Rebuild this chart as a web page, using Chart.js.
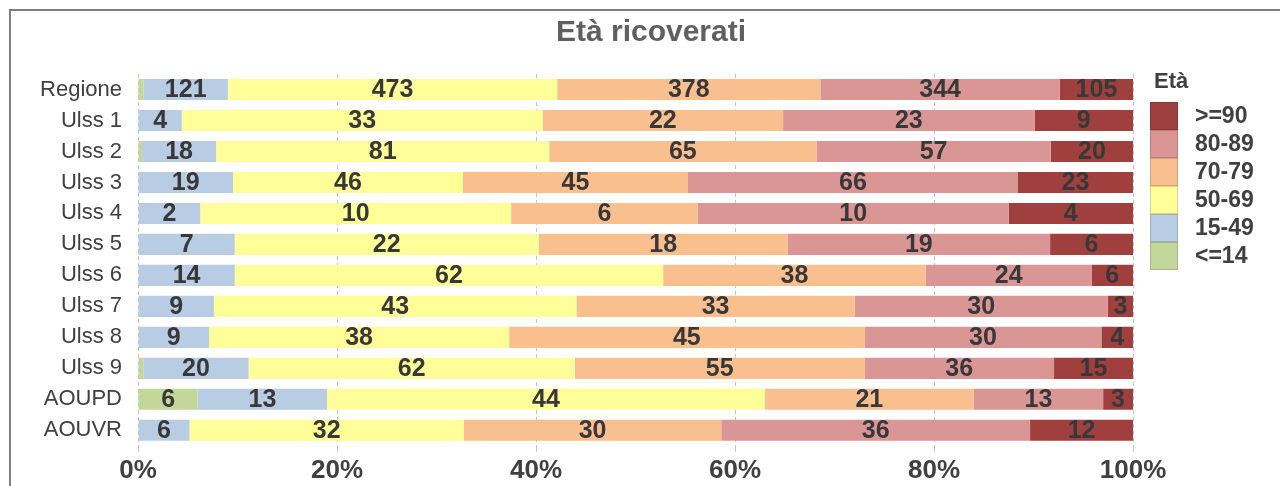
<!DOCTYPE html>
<html>
<head>
<meta charset="utf-8">
<script src="https://cdn.jsdelivr.net/npm/chart.js@4"></script>
<style>
  html, body { margin: 0; padding: 0; background: #fff; overflow: hidden; }
  #cornice { position: absolute; left: 9px; top: 9px; width: 1400px; height: 700px; border: 2px solid #7f7f7f; }
  #box { position: absolute; left: 22px; top: 0; width: 1258px; height: 486px; }
</style>
</head>
<body>
<div id="cornice"></div>
<div id="box"><canvas id="barChart"></canvas></div>
<script>
// ricoverati per struttura e fascia d'età
const strutture = ["Regione", "Ulss 1", "Ulss 2", "Ulss 3", "Ulss 4", "Ulss 5", "Ulss 6", "Ulss 7", "Ulss 8", "Ulss 9", "AOUPD", "AOUVR"];
const fasce = ["<=14", "15-49", "50-69", "70-79", "80-89", ">=90"];
const eta0_14 = [8, 0, 1, 0, 0, 0, 0, 0, 0, 1, 6, 0];
const eta15_49 = [121, 4, 18, 19, 2, 7, 14, 9, 9, 20, 13, 6];
const eta50_69 = [473, 33, 81, 46, 10, 22, 62, 43, 38, 62, 44, 32];
const eta70_79 = [378, 22, 65, 45, 6, 18, 38, 33, 45, 55, 21, 30];
const eta80_89 = [344, 23, 57, 66, 10, 19, 24, 30, 30, 36, 13, 36];
const eta90 = [105, 9, 20, 23, 4, 6, 6, 3, 4, 15, 3, 12];
const tickX = [0, 20, 40, 60, 80, 100];

const colori = ["#c4d79b", "#b8cce4", "#ffff99", "#fabf8f", "#da9694", "#a0403e"];
const conteggi = [eta0_14, eta15_49, eta50_69, eta70_79, eta80_89, eta90];

// totali per riga, per passare alle percentuali
const totali = strutture.map((s, i) => conteggi.reduce((acc, serie) => acc + serie[i], 0));

const FONT = "'Liberation Sans', Arial, sans-serif";
Chart.defaults.font.family = FONT;
Chart.defaults.color = "#404040";

// titolo centrato sull'intera tela (la legenda è disegnata a parte)
const titolo = {
  id: "titolo",
  afterDraw(chart) {
    const ctx = chart.ctx;
    ctx.save();
    ctx.font = "bold 30px " + FONT;
    ctx.fillStyle = "#606060";
    ctx.textAlign = "center";
    ctx.textBaseline = "middle";
    ctx.fillText("Età ricoverati", chart.width / 2, 33);
    ctx.restore();
  }
};

// numeri dentro i segmenti (solo se il segmento è abbastanza largo)
const etichette = {
  id: "etichette",
  afterDatasetsDraw(chart) {
    const ctx = chart.ctx;
    ctx.save();
    ctx.font = "bold 25px " + FONT;
    ctx.fillStyle = "#383838";
    ctx.textAlign = "center";
    ctx.textBaseline = "middle";
    chart.data.datasets.forEach((ds, d) => {
      chart.getDatasetMeta(d).data.forEach((bar, i) => {
        const n = ds.conteggi[i];
        if (!n || Math.abs(bar.x - bar.base) < 15) return;
        const c = bar.getCenterPoint();
        ctx.fillText(String(n), c.x, c.y + 1);
      });
    });
    ctx.restore();
  }
};

// legenda a destra, dalla fascia più alta
const legenda = {
  id: "legenda",
  afterDraw(chart) {
    const ctx = chart.ctx;
    const area = chart.chartArea;
    const x0 = area.right + 17;
    let y = area.top + 28;
    ctx.save();
    ctx.fillStyle = "#404040";
    ctx.textBaseline = "middle";
    ctx.font = "bold 22px " + FONT;
    ctx.fillText("Età", x0 + 4, area.top + 8);
    ctx.font = "bold 23px " + FONT;
    chart.data.datasets.slice().reverse().forEach(d => {
      ctx.fillStyle = d.backgroundColor;
      ctx.fillRect(x0, y, 28, 28);
      ctx.strokeStyle = "rgba(0,0,0,0.15)";
      ctx.lineWidth = 1;
      ctx.strokeRect(x0 + 0.5, y + 0.5, 27, 27);
      ctx.fillStyle = "#404040";
      ctx.fillText(d.label, x0 + 45, y + 15);
      y += 28;
    });
    ctx.restore();
  }
};

const barChart = document.querySelector("#barChart");
const myChart = new Chart(barChart, {
  type: "bar",
  data: {
    labels: strutture,
    datasets: fasce.map((f, k) => ({
      label: f,
      conteggi: conteggi[k],
      data: conteggi[k].map((v, i) => v / totali[i] * 100),
      backgroundColor: colori[k],
      borderWidth: 0,
      categoryPercentage: 1,
      barPercentage: 0.68,
    })),
  },
  options: {
    indexAxis: "y",
    responsive: true,
    maintainAspectRatio: false,
    animation: false,
    layout: {
      padding: { left: 0, right: 147, top: 74, bottom: -3 },
    },
    scales: {
      x: {
        stacked: true,
        min: 0,
        max: 100,
        afterBuildTicks(scale) {
          scale.ticks = tickX.map(v => ({ value: v }));
        },
        ticks: {
          callback: v => v + "%",
          font: { size: 26, weight: "bold" },
          color: "#404040",
          padding: 3,
          maxRotation: 0,
        },
        grid: {
          color: "#c4c4c4",
          tickColor: "#c4c4c4",
          tickLength: 6,
          drawTicks: true,
        },
        border: { display: false, dash: [4, 3] },
      },
      y: {
        stacked: true,
        afterFit(scale) {
          scale.width = 116;
        },
        ticks: {
          font: { size: 22 },
          color: "#404040",
          padding: 16,
        },
        grid: { display: false, drawTicks: false },
        border: { display: false },
      },
    },
    plugins: {
      title: { display: false },
      legend: { display: false },
      tooltip: { enabled: false },
    },
  },
  plugins: [etichette, legenda, titolo],
});
</script>
</body>
</html>
